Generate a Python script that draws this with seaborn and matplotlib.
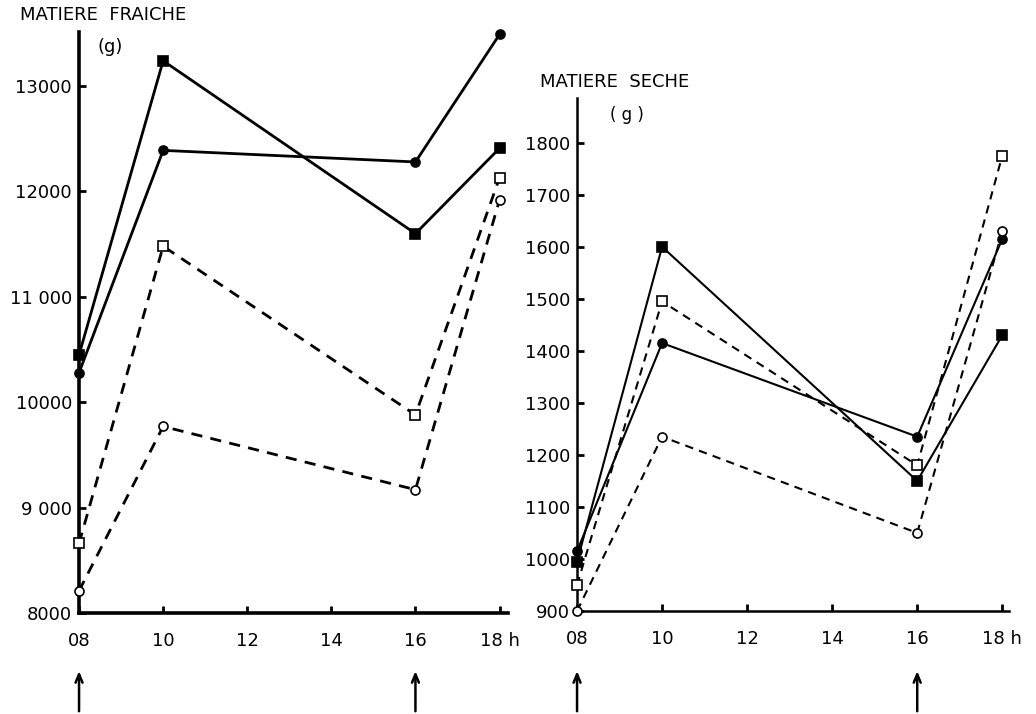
import matplotlib
matplotlib.use("Agg")
import matplotlib.pyplot as plt
import seaborn as sns
import pandas as pd

# hours of sampling
hours = [8, 10, 16, 18]

# matiere fraiche (g)
mf_filled_square = [10450, 13240, 11600, 12410]
mf_filled_circle = [10280, 12390, 12280, 13490]
mf_open_square = [8660, 11480, 9880, 12130]
mf_open_circle = [8210, 9770, 9170, 11920]

# matiere seche (g)
ms_filled_square = [995, 1600, 1150, 1430]
ms_filled_circle = [1015, 1415, 1235, 1615]
ms_open_square = [950, 1495, 1180, 1775]
ms_open_circle = [900, 1235, 1050, 1630]

xticks = [8, 10, 12, 14, 16, 18]
xticklabels = ["08", "10", "12", "14", "16", "18 h"]
mf_yticks = [8000, 9000, 10000, 11000, 12000, 13000]
mf_yticklabels = ["8000", "9 000", "10000", "11 000", "12000", "13000"]
ms_yticks = [900, 1000, 1100, 1200, 1300, 1400, 1500, 1600, 1700, 1800]
ms_yticklabels = [str(v) for v in ms_yticks]
arrow_hours = [8, 16]

sns.set_style("ticks")
plt.rcParams["font.family"] = ["DejaVu Sans"]
plt.rcParams["text.color"] = "black"
plt.rcParams["xtick.color"] = "black"
plt.rcParams["ytick.color"] = "black"
plt.rcParams["axes.edgecolor"] = "black"

fig = plt.figure(figsize=(10.36, 7.14), dpi=100)
ax1 = fig.add_axes([0.0763, 0.1415, 0.414, 0.8135])
ax2 = fig.add_axes([0.557, 0.1443, 0.417, 0.7184])


def draw(ax, fs, fc, os_, oc, lw):
    series = [
        (fs, "s", "black", "-"),
        (fc, "o", "black", "-"),
        (os_, "s", "white", (0, (4, 3))),
        (oc, "o", "white", (0, (4, 3))),
    ]
    for vals, mk, face, ls in series:
        df = pd.DataFrame({"h": hours, "v": vals})
        sns.lineplot(data=df, x="h", y="v", ax=ax, color="black",
                     linestyle=ls, linewidth=lw, marker=mk,
                     markersize=6.5, markerfacecolor=face,
                     markeredgecolor="black", markeredgewidth=1.2,
                     clip_on=False, zorder=3)


draw(ax1, mf_filled_square, mf_filled_circle, mf_open_square, mf_open_circle, 2.0)
draw(ax2, ms_filled_square, ms_filled_circle, ms_open_square, ms_open_circle, 1.5)

ax1.set_xlim(8, 18.2)
ax1.set_ylim(8000, 13512)
ax1.set_yticks(mf_yticks)
ax1.set_yticklabels(mf_yticklabels)
ax2.set_xlim(8, 18.16)
ax2.set_ylim(900, 1886)
ax2.set_yticks(ms_yticks)
ax2.set_yticklabels(ms_yticklabels)

for ax, sw in [(ax1, 2.6), (ax2, 1.8)]:
    ax.set_xticks(xticks)
    ax.set_xticklabels(xticklabels)
    ax.set_xlabel("")
    ax.set_ylabel("")
    ax.spines["top"].set_visible(False)
    ax.spines["right"].set_visible(False)
    ax.spines["left"].set_linewidth(sw)
    ax.spines["bottom"].set_linewidth(sw)
    ax.tick_params(direction="in", length=5, width=2, labelsize=13)
    ax.tick_params(axis="x", pad=14)
    ax.tick_params(axis="y", pad=5)
    for h in arrow_hours:
        ax.annotate("", xy=(h, 0.064), xytext=(h, 0.0),
                    xycoords=("data", "figure fraction"),
                    textcoords=("data", "figure fraction"),
                    arrowprops=dict(arrowstyle="->,head_width=0.25,head_length=0.6",
                                    color="black", lw=1.8),
                    annotation_clip=False)

fig.text(0.019, 0.979, "MATIERE  FRAICHE", fontsize=13, va="center", ha="left")
fig.text(0.094, 0.934, "(g)", fontsize=13, va="center", ha="left")
fig.text(0.521, 0.885, "MATIERE  SECHE", fontsize=13, va="center", ha="left")
fig.text(0.589, 0.839, "( g )", fontsize=12, va="center", ha="left")

fig.savefig("out.png", dpi=100)
